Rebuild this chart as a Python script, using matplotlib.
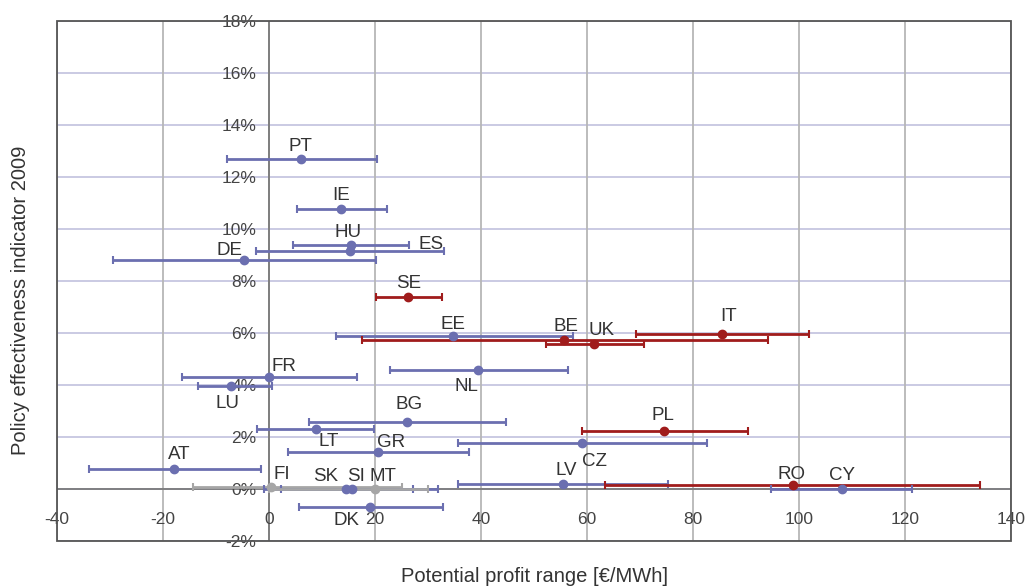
import matplotlib.pyplot as plt
from matplotlib.patches import Rectangle

plt.rcParams['font.family'] = ['Liberation Sans', 'DejaVu Sans']
plt.rcParams['axes.unicode_minus'] = False

countries = ['PT', 'IE', 'HU', 'ES', 'DE', 'SE', 'EE', 'BE', 'UK', 'IT', 'FR', 'LU', 'NL',
             'BG', 'LT', 'GR', 'PL', 'CZ', 'AT', 'LV', 'RO', 'CY', 'FI', 'SK', 'SI', 'MT', 'DK']
profit = [6.0, 13.6, 15.5, 15.3, -4.7, 26.2, 34.7, 55.7, 61.3, 85.5, 0.0, -7.2, 39.4,
          26.0, 8.9, 20.6, 74.5, 59.1, -17.9, 55.5, 98.9, 108.1, 0.4, 14.5, 15.7, 20.0, 19.1]
profit_low = [-7.9, 5.3, 4.5, -2.5, -29.4, 20.2, 12.6, 17.5, 52.3, 69.2, -16.4, -13.4, 22.8,
              7.6, -2.3, 3.5, 59.1, 35.7, -34.0, 35.7, 63.4, 94.7, -14.3, -0.9, 2.3, 0.0, 5.7]
profit_high = [20.4, 22.3, 26.4, 33.0, 20.2, 32.6, 57.4, 94.2, 70.8, 101.9, 16.6, 0.5, 56.4,
               44.7, 19.8, 37.7, 90.4, 82.6, -1.5, 75.3, 134.2, 121.3, 25.0, 31.9, 27.2, 30.0, 32.8]
effectiveness = [12.7, 10.77, 9.38, 9.15, 8.8, 7.4, 5.88, 5.73, 5.58, 5.96, 4.3, 3.96, 4.58,
                 2.58, 2.3, 1.42, 2.23, 1.77, 0.77, 0.19, 0.15, 0.0, 0.08, 0.0, 0.0, 0.0, -0.69]
group = ['b', 'b', 'b', 'b', 'b', 'r', 'b', 'r', 'r', 'r', 'b', 'b', 'b',
         'b', 'b', 'b', 'r', 'b', 'b', 'b', 'r', 'b', 'g', 'b', 'b', 'g', 'b']

# label offsets in pixels (dx, dy) from the point
label_off = {'PT': (0, 12), 'IE': (0, 13), 'HU': (-3, 13), 'ES': (81, 7), 'DE': (-15, 10),
             'SE': (1, 13), 'EE': (0, 12), 'BE': (2, 13), 'UK': (8, 13), 'IT': (6, 18),
             'FR': (15, 11), 'LU': (-3, -17), 'NL': (-11, -17), 'BG': (2, 17), 'LT': (12, -12),
             'GR': (13, 10), 'PL': (-1, 15), 'CZ': (12, -19), 'AT': (5, 14), 'LV': (3, 14),
             'RO': (-2, 11), 'CY': (0, 13), 'FI': (11, 12), 'SK': (-20, 12), 'SI': (4, 12),
             'MT': (8, 12), 'DK': (-24, -14)}

colors = {'b': '#6b6fb0', 'r': '#a01c1c', 'g': '#a6a6a6'}

fig = plt.figure(figsize=(10.27, 5.88), dpi=100)
ax = fig.add_axes([0.0555, 0.080, 0.929, 0.8843])

ax.set_xlim(-40, 140)
ax.set_ylim(-2, 18)

# grid
for yv in range(-2, 19, 2):
    ax.axhline(yv, color='#c6c6e0', lw=1.3, zorder=0)
for xv in range(-40, 141, 20):
    ax.axvline(xv, color='#b6b6b6', lw=1.3, zorder=0)
ax.axhline(0, color='#7a7a7a', lw=1.3, zorder=1)
ax.axvline(0, color='#7a7a7a', lw=1.3, zorder=1)

for i, c in enumerate(countries):
    col = colors[group[i]]
    ax.errorbar(profit[i], effectiveness[i],
                xerr=[[profit[i] - profit_low[i]], [profit_high[i] - profit[i]]],
                fmt='o', color=col, ms=6, elinewidth=2, capsize=3, capthick=1.5, zorder=3)
    dx, dy = label_off[c]
    ax.annotate(c, (profit[i], effectiveness[i]), xytext=(dx, dy), textcoords='offset pixels',
                ha='center', va='center', fontsize=13.5, color='#333333', zorder=4)

for s in ax.spines.values():
    s.set_visible(False)
ax.add_patch(Rectangle((0, 0), 1, 1, transform=ax.transAxes, fill=False,
                       edgecolor='#555555', lw=1.3, zorder=5, clip_on=False))

ax.set_xticks(range(-40, 141, 20))
ax.set_yticks(range(-2, 19, 2))
ax.set_yticklabels([f'{v}%' for v in range(-2, 19, 2)])
ax.tick_params(length=0, labelsize=12.5, labelcolor='#444444')
ax.tick_params(axis='x', pad=-21)
for t in ax.get_yticklabels():
    t.set_x(0.214)

fig.text(0.52, 0.004, 'Potential profit range [€/MWh]', ha='center', va='bottom',
         fontsize=14.5, color='#333333')
fig.text(0.02, 0.49, 'Policy effectiveness indicator 2009', ha='center', va='center',
         rotation=90, fontsize=14.5, color='#333333')

fig.savefig('out.png', dpi=100)
